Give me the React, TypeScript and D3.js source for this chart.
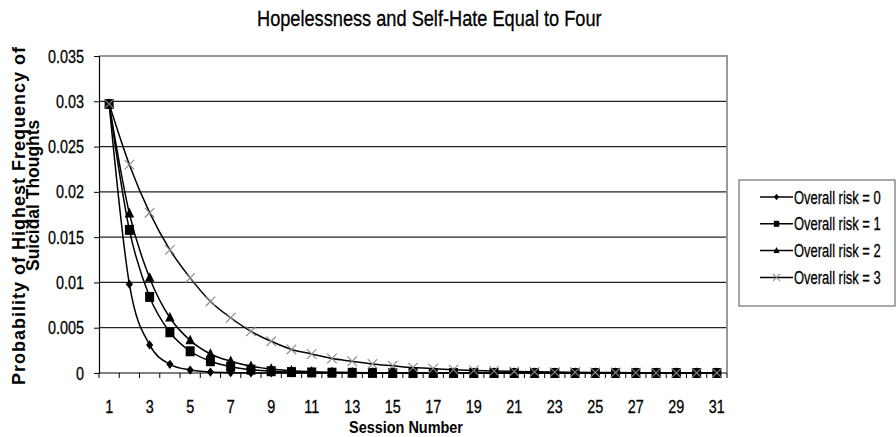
import React, { useEffect, useRef } from 'react';
import * as d3 from 'd3';

const sessions = [1, 2, 3, 4, 5, 6, 7, 8, 9, 10, 11, 12, 13, 14, 15, 16, 17, 18, 19, 20, 21, 22, 23, 24, 25, 26, 27, 28, 29, 30, 31];
const xTickLabels = [1, 3, 5, 7, 9, 11, 13, 15, 17, 19, 21, 23, 25, 27, 29, 31];
const yTicks = [0, 0.005, 0.01, 0.015, 0.02, 0.025, 0.03, 0.035];

const risk0 = [0.0297, 0.0098, 0.0031, 0.00096, 0.00033, 0.0001, 0.00003, 0.00001, 0, 0, 0, 0, 0, 0, 0, 0, 0, 0, 0, 0, 0, 0, 0, 0, 0, 0, 0, 0, 0, 0, 0];
const risk1 = [0.0297, 0.0158, 0.0084, 0.0045, 0.0024, 0.0013, 0.0007, 0.00037, 0.0002, 0.0001, 0.00006, 0.00003, 0.00002, 0.00001, 0, 0, 0, 0, 0, 0, 0, 0, 0, 0, 0, 0, 0, 0, 0, 0, 0];
const risk2 = [0.0297, 0.0176, 0.0105, 0.0061, 0.0036, 0.0021, 0.0013, 0.00075, 0.00044, 0.00026, 0.00015, 0.00009, 0.00005, 0.00003, 0.00002, 0.00001, 0, 0, 0, 0, 0, 0, 0, 0, 0, 0, 0, 0, 0, 0, 0];
const risk3 = [0.0297, 0.023, 0.0177, 0.0136, 0.0105, 0.0079, 0.0061, 0.0046, 0.0035, 0.0026, 0.0021, 0.0016, 0.0013, 0.001, 0.0008, 0.0006, 0.00048, 0.00037, 0.00028, 0.00022, 0.00017, 0.00013, 0.0001, 0.00008, 0.00006, 0.00005, 0.00004, 0.00003, 0.00002, 0.00002, 0.00001];

const seriesNames = ['Overall risk = 0', 'Overall risk = 1', 'Overall risk = 2', 'Overall risk = 3'];
const seriesValues = [risk0, risk1, risk2, risk3];
const markerTypes = ['diamond', 'square', 'triangle', 'x'];

const FONT = '"Liberation Sans", Arial, sans-serif';

type G = d3.Selection<SVGGElement, unknown, null, undefined>;

const App: React.FC = () => {
  const svgRef = useRef<SVGSVGElement>(null);

  useEffect(() => {
    if (!svgRef.current) return;
    const svg = d3.select(svgRef.current);
    svg.selectAll('*').remove();

    const width = 896;
    const height = 437;
    const margin = { top: 56, right: 169, bottom: 64, left: 99 };
    const innerW = width - margin.left - margin.right;
    const innerH = height - margin.top - margin.bottom;

    svg.append('rect').attr('width', width).attr('height', height).attr('fill', '#fff');

    const x = d3.scaleBand<number>().domain(sessions).range([0, innerW]);
    const y = d3.scaleLinear().domain([0, 0.035]).range([innerH, 0]);
    const cx = (s: number) => (x(s) as number) + x.bandwidth() / 2;

    // Arial Narrow look-alike: Liberation Sans squeezed horizontally
    const narrowText = (parent: any, tx: number, ty: number, str: string | number, size: number, anchor: string, sx: number, bold = false) =>
      parent.append('text')
        .attr('transform', `translate(${tx},${ty}) scale(${sx},1)`)
        .attr('text-anchor', anchor)
        .style('font-family', FONT)
        .style('font-size', `${size}px`)
        .style('font-weight', bold ? 'bold' : 'normal')
        .attr('fill', '#000')
        .attr('stroke', '#000')
        .attr('stroke-width', bold ? 0 : 0.3)
        .text(str);

    const g = svg.append('g').attr('transform', `translate(${margin.left},${margin.top})`);

    // gridlines
    g.selectAll('.grid')
      .data(yTicks.filter(t => t > 0 && t < 0.035))
      .enter()
      .append('line')
      .attr('x1', 0)
      .attr('x2', innerW)
      .attr('y1', d => y(d))
      .attr('y2', d => y(d))
      .attr('stroke', '#222')
      .attr('stroke-width', 1.2);

    // plot border (top and right, gray)
    g.append('path')
      .attr('d', `M0,${y(0.035)}H${innerW}V${innerH}`)
      .attr('fill', 'none')
      .attr('stroke', '#999')
      .attr('stroke-width', 2);

    // y axis
    const yAxis = g.append('g')
      .call(d3.axisLeft(y).tickValues(yTicks).tickSize(5).tickFormat(() => ''));
    yAxis.select('.domain').attr('stroke', '#000').attr('stroke-width', 1.2);
    yAxis.selectAll('line').attr('stroke', '#000');
    yTicks.forEach(t => narrowText(g, -15, y(t) + 6.5, `${t}`, 18, 'end', 0.8));

    // x axis: ticks on category boundaries
    const xg = g.append('g').attr('transform', `translate(0,${innerH})`);
    xg.append('line').attr('x1', 0).attr('x2', innerW).attr('stroke', '#000').attr('stroke-width', 1.2);
    xg.selectAll('.tick')
      .data(sessions.concat([sessions.length + 1]))
      .enter()
      .append('line')
      .attr('x1', (d, i) => i * x.step())
      .attr('x2', (d, i) => i * x.step())
      .attr('y1', 0)
      .attr('y2', 5)
      .attr('stroke', '#000');
    xTickLabels.forEach(s => narrowText(xg, cx(s), 40, s, 18, 'middle', 0.8));

    // lines
    const line = d3.line<number>()
      .x((d, i) => cx(sessions[i]))
      .y(d => y(d))
      .curve(d3.curveMonotoneX);

    seriesValues.forEach(vals => {
      g.append('path')
        .datum(vals)
        .attr('fill', 'none')
        .attr('stroke', '#000')
        .attr('stroke-width', 1.5)
        .attr('d', line);
    });

    const drawMarker = (sel: G, type: string, px: number, py: number, s: number) => {
      if (type === 'diamond') {
        sel.append('path').attr('d', `M${px},${py - s * 1.1}L${px + s * 0.85},${py}L${px},${py + s * 1.1}L${px - s * 0.85},${py}Z`).attr('fill', '#000');
      } else if (type === 'square') {
        sel.append('rect').attr('x', px - s * 0.9).attr('y', py - s).attr('width', s * 1.8).attr('height', s * 2).attr('fill', '#000');
      } else if (type === 'triangle') {
        sel.append('path').attr('d', `M${px},${py - s * 1.2}L${px + s},${py + s * 0.8}L${px - s},${py + s * 0.8}Z`).attr('fill', '#000');
      } else {
        sel.append('path')
          .attr('d', `M${px - s},${py - s}L${px + s},${py + s}M${px - s},${py + s}L${px + s},${py - s}`)
          .attr('stroke', '#888')
          .attr('stroke-width', 1.1)
          .attr('fill', 'none');
      }
    };

    const markerSize = [4.2, 5, 4.8, 4.8];
    seriesValues.forEach((vals, si) => {
      const mg = g.append('g') as G;
      vals.forEach((v, i) => drawMarker(mg, markerTypes[si], cx(sessions[i]), y(v), markerSize[si]));
    });

    // title
    narrowText(svg, 257, 26, 'Hopelessness and Self-Hate Equal to Four', 22, 'start', 0.827);

    // x label
    narrowText(svg, 349, 433, 'Session Number', 17, 'start', 0.85, true);

    // y label (two lines, rotated, regular-width bold)
    svg.append('text')
      .attr('transform', 'translate(25,385) rotate(-90)')
      .style('font-family', FONT)
      .style('font-weight', 'bold')
      .style('font-size', '18px')
      .style('letter-spacing', '1px')
      .text('Probability of Highest Frequency of');
    svg.append('text')
      .attr('transform', 'translate(39,271) rotate(-90) scale(0.97,1)')
      .style('font-family', FONT)
      .style('font-weight', 'bold')
      .style('font-size', '18px')
      .text('Suicidal Thoughts');

    // legend
    const lg = svg.append('g').attr('transform', 'translate(739,180)');
    lg.append('rect')
      .attr('width', 156)
      .attr('height', 126)
      .attr('fill', '#fff')
      .attr('stroke', '#555')
      .attr('stroke-width', 1);
    seriesNames.forEach((name, i) => {
      const ly = 17 + i * 26.8;
      const row = lg.append('g') as G;
      row.append('line').attr('x1', 21).attr('x2', 54).attr('y1', ly).attr('y2', ly).attr('stroke', '#000').attr('stroke-width', 1.5);
      drawMarker(row, markerTypes[i], 37.5, ly, i === 3 ? 3.5 : 3);
      narrowText(row, 55, ly + 6.5, name, 18, 'start', 0.72);
    });
  }, []);

  return (
    <svg
      ref={svgRef}
      width={896}
      height={437}
      style={{ position: 'absolute', left: 0, top: 0, display: 'block' }}
    />
  );
};

export default App;
